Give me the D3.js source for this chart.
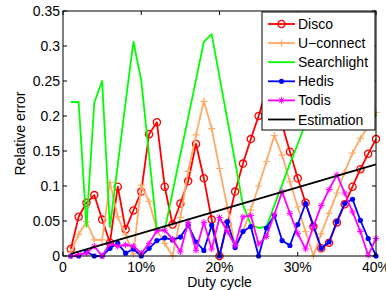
<!DOCTYPE html>
<html>
<head>
<meta charset="utf-8">
<script src="https://cdn.jsdelivr.net/npm/d3@7"></script>
<style>
  html, body { margin: 0; padding: 0; background: #fff; }
  svg { display: block; font-family: "Liberation Sans", Arial, sans-serif; }
</style>
</head>
<body>
<script>
// duty cycle in %
const dutyCycle = [1,2,3,4,5,6,7,8,9,10,11,12,13,14,15,16,17,18,19,20,
                   21,22,23,24,25,26,27,28,29,30,31,32,33,34,35,36,37,38,39,40]

const disco = [0.010,0.056,0.076,0.087,0.052,0.019,0.099,0.038,0.065,0.092,
               0.174,0.191,0.099,0.045,0.075,0.107,0.160,0.111,0.052,0.000,
               0.046,0.092,0.132,0.167,0.200,0.238,0.226,0.188,0.149,0.111,
               0.076,0.042,0.011,0.019,0.048,0.074,0.099,0.124,0.146,0.167]
const uconnect = [0.005,0.031,0.049,0.023,0.023,0.105,0.056,0.030,0.003,0.101,
                  0.078,0.037,0.018,0.000,0.055,0.121,0.173,0.221,0.182,0.125,
                  0.070,0.015,0.035,0.066,0.100,0.135,0.172,0.144,0.106,0.070,
                  0.035,0.000,0.032,0.061,0.090,0.120,0.147,0.168,0.185,0.205]
const searchlight = [0.220,0.220,0.042,0.219,0.250,0.041,0.131,0.220,0.306,0.251,
                     0.144,0.037,0.037,0.091,0.145,0.198,0.252,0.306,0.317,0.256,
                     0.195,0.134,0.073,0.045,0.040,0.042,0.072,0.102,0.132,0.160,
                     0.190,0.220,0.250,0.280,0.300,0.280,0.260,0.240,0.220,0.200]
const hedis = [0.000,0.000,0.006,0.000,0.000,0.011,0.018,0.004,0.010,0.000,
               0.011,0.022,0.026,0.023,0.027,0.044,0.020,0.008,0.044,0.000,
               0.049,0.012,0.035,0.042,0.000,0.040,0.058,0.022,0.015,0.045,
               0.075,0.044,0.011,0.020,0.049,0.075,0.081,0.051,0.025,0.000]
const todis = [0.000,0.002,0.004,0.014,0.000,0.018,0.014,0.016,0.014,0.004,
               0.018,0.036,0.037,0.024,0.006,0.048,0.008,0.048,0.010,0.055,
               0.035,0.015,0.056,0.058,0.017,0.028,0.059,0.092,0.061,0.032,
               0.010,0.042,0.072,0.095,0.116,0.090,0.063,0.035,0.001,0.025]
const estimationX = [1, 40]
const estimation = [0.003, 0.131]

const xTicks = [0,10,20,30,40]
const xTickLabels = ["0","10%","20%","30%","40%"]
const yTicks = [0,0.05,0.1,0.15,0.2,0.25,0.3,0.35]
const yTickLabels = ["0","0.05","0.1","0.15","0.2","0.25","0.3","0.35"]

const series = [
  {name:"Disco", values:disco, color:"#ff0000", marker:"circle"},
  {name:"U\u2212connect", values:uconnect, color:"#ffaa66", marker:"plus"},
  {name:"Searchlight", values:searchlight, color:"#00ff00", marker:"none"},
  {name:"Hedis", values:hedis, color:"#0000ff", marker:"dot"},
  {name:"Todis", values:todis, color:"#ff00ff", marker:"star"},
  {name:"Estimation", values:estimation, xs:estimationX, color:"#000000", marker:"none"}
]

const W = 386, H = 290
const m = {left:63, right:10, top:11, bottom:34}
const svg = d3.select("body").append("svg").attr("width",W).attr("height",H)

const x = d3.scaleLinear().domain([0,40]).range([m.left, W-m.right])
const y = d3.scaleLinear().domain([0,0.35]).range([H-m.bottom, m.top])

const plot = svg.append("g")
const line = d3.line().x(d=>x(d[0])).y(d=>y(d[1]))

function drawMarker(g, type, color){
    if (type==="circle") {
        g.append("circle").attr("r",3.6).attr("fill","none").attr("stroke",color).attr("stroke-width",1.3)
    } else if (type==="dot") {
        g.append("circle").attr("r",2.6).attr("fill",color)
    } else if (type==="plus") {
        g.append("path").attr("d","M-3.5,0H3.5M0,-3.5V3.5").attr("stroke",color).attr("stroke-width",1.2)
    } else if (type==="star") {
        g.append("path").attr("d","M-3.2,0H3.2M0,-3.2V3.2M-2.3,-2.3L2.3,2.3M-2.3,2.3L2.3,-2.3")
            .attr("stroke",color).attr("stroke-width",1)
    }
}

series.forEach(s => {
    const xs = s.xs || dutyCycle
    const pts = s.values.map((v,i)=>[xs[i], v])
    const g = plot.append("g")
    g.append("path").datum(pts)
        .attr("d", line)
        .attr("fill","none")
        .attr("stroke", s.color)
        .attr("stroke-width", 1.8)
        .attr("stroke-linejoin","round")
    if (s.marker !== "none") {
        g.selectAll(".mk").data(pts).join("g")
            .classed("mk",true)
            .attr("transform", d=>`translate(${x(d[0])},${y(d[1])})`)
            .each(function(){ drawMarker(d3.select(this), s.marker, s.color) })
    }
})

// axes box with inward ticks (matlab style)
const axes = svg.append("g").attr("font-size",14).attr("fill","#000")
axes.append("rect")
    .attr("x", x(0)).attr("y", y(0.35))
    .attr("width", x(40)-x(0)).attr("height", y(0)-y(0.35))
    .attr("fill","none").attr("stroke","#000").attr("stroke-width",1)

const tl = 4
axes.selectAll(".xt").data(xTicks).join("g").classed("xt",true)
    .each(function(d,i){
        const g = d3.select(this)
        g.append("line").attr("x1",x(d)).attr("x2",x(d)).attr("y1",y(0)).attr("y2",y(0)-tl).attr("stroke","#000")
        g.append("line").attr("x1",x(d)).attr("x2",x(d)).attr("y1",y(0.35)).attr("y2",y(0.35)+tl).attr("stroke","#000")
        g.append("text").attr("x",x(d)).attr("y",y(0)+16).attr("text-anchor","middle").text(xTickLabels[i])
    })
axes.selectAll(".yt").data(yTicks).join("g").classed("yt",true)
    .each(function(d,i){
        const g = d3.select(this)
        g.append("line").attr("x1",x(0)).attr("x2",x(0)+tl).attr("y1",y(d)).attr("y2",y(d)).attr("stroke","#000")
        g.append("line").attr("x1",x(40)).attr("x2",x(40)-tl).attr("y1",y(d)).attr("y2",y(d)).attr("stroke","#000")
        g.append("text").attr("x",x(0)-3).attr("y",y(d)+5).attr("text-anchor","end").text(yTickLabels[i])
    })

axes.append("text")
    .attr("x", (x(0)+x(40))/2).attr("y", H-3)
    .attr("text-anchor","middle").text("Duty cycle")
axes.append("text")
    .attr("transform", `translate(25,${(y(0)+y(0.35))/2}) rotate(-90)`)
    .attr("text-anchor","middle").text("Relative error")

// legend
const lg = svg.append("g").attr("transform","translate(262,12)")
lg.append("rect").attr("width",113).attr("height",118).attr("fill","#fff").attr("stroke","#000")
series.forEach((s,i)=>{
    const yy = 12 + i*19.1
    const row = lg.append("g").attr("transform",`translate(0,${yy})`)
    row.append("line").attr("x1",6).attr("x2",33).attr("stroke",s.color).attr("stroke-width",1.8)
    if (s.marker !== "none") drawMarker(row.append("g").attr("transform","translate(19.5,0)"), s.marker, s.color)
    row.append("text").attr("x",36).attr("y",5).attr("font-size",14).text(s.name)
})
</script>
</body>
</html>
